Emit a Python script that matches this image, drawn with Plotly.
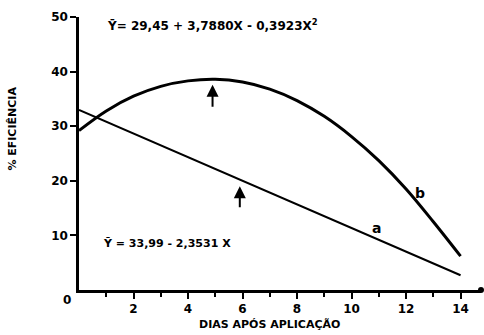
import plotly.graph_objects as go

# Data
b_x = [0, 1, 2, 3, 4, 5, 6, 7, 8, 9, 10, 11, 12, 13, 14]
b_y = [29.2, 32.8, 35.5, 37.3, 38.3, 38.6, 38.1, 36.8, 34.7, 31.8, 28.1, 23.7, 18.5, 12.5, 6.2]
a_x = [0, 14]
a_y = [33.0, 2.7]

x_ticks = [2, 4, 6, 8, 10, 12, 14]
x_minor = [1, 3, 5, 7, 9, 11, 13]
y_ticks = [10, 20, 30, 40, 50]

font = dict(family="DejaVu Sans", size=12, color="black", weight="bold")

fig = go.Figure()
fig.add_trace(go.Scatter(x=b_x, y=b_y, mode="lines", line=dict(color="black", width=3, shape="spline"),
                         showlegend=False, hoverinfo="skip"))
fig.add_trace(go.Scatter(x=a_x, y=a_y, mode="lines", line=dict(color="black", width=2),
                         showlegend=False, hoverinfo="skip"))
fig.add_trace(go.Scatter(x=[14.75], y=[0], mode="markers", marker=dict(color="black", size=6),
                         cliponaxis=False, showlegend=False, hoverinfo="skip"))

# arrows
for (x0, y0, y1) in [(4.9, 32.0, 37.6), (5.9, 13.6, 19.0)]:
    fig.add_annotation(x=x0, y=y1, ax=x0, ay=y0, xref="x", yref="y", axref="x", ayref="y",
                       showarrow=True, arrowhead=2, arrowsize=1.2, arrowwidth=2, arrowcolor="black", text=" ")

fig.add_annotation(x=0.95, y=48.5, xref="x", yref="y", text="Ȳ= 29,45 + 3,7880X - 0,3923X<sup>2</sup>",
                   showarrow=False, xanchor="left", font=dict(family="DejaVu Sans", size=12, color="black", weight="bold"))
fig.add_annotation(x=0.8, y=8.6, xref="x", yref="y", text="Ȳ = 33,99 - 2,3531 X",
                   showarrow=False, xanchor="left", font=dict(family="DejaVu Sans", size=11, color="black", weight="bold"))
fig.add_annotation(x=10.9, y=11.4, xref="x", yref="y", text="a", showarrow=False,
                   font=dict(family="DejaVu Sans", size=14, color="black", weight="bold"))
fig.add_annotation(x=12.5, y=17.8, xref="x", yref="y", text="b", showarrow=False,
                   font=dict(family="DejaVu Sans", size=14, color="black", weight="bold"))
fig.add_annotation(x=-0.015, y=-0.005, xref="paper", yref="paper", text="0", showarrow=False,
                   xanchor="right", yanchor="top", font=font)
# axis titles
fig.add_annotation(x=-0.165, y=0.59, xref="paper", yref="paper", text="% EFICIÊNCIA", textangle=-90,
                   showarrow=False, xanchor="center", yanchor="middle",
                   font=dict(family="DejaVu Sans", size=11, color="black", weight="bold"))
fig.add_annotation(x=0.475, y=-0.095, xref="paper", yref="paper", text="DIAS APÓS APLICAÇÃO",
                   showarrow=False, xanchor="center", yanchor="top",
                   font=dict(family="DejaVu Sans", size=11, color="black", weight="bold"))

fig.update_layout(
    width=484, height=335,
    margin=dict(l=79, r=3, t=17, b=45),
    paper_bgcolor="white", plot_bgcolor="white",
    font=font,
    xaxis=dict(range=[0, 14.75], tickvals=x_ticks, showgrid=False, zeroline=False,
               showline=True, linecolor="black", linewidth=2.5,
               ticks="outside", ticklen=6, tickwidth=2, tickcolor="black",
               minor=dict(tickvals=x_minor, ticks="outside", ticklen=4, tickwidth=2, tickcolor="black"),
               tickfont=font),
    yaxis=dict(range=[0, 50], tickvals=y_ticks, showgrid=False, zeroline=False,
               showline=True, linecolor="black", linewidth=2.5,
               ticks="outside", ticklen=6, tickwidth=2, tickcolor="black",
               tickfont=font),
)

fig.write_html("out.html")
